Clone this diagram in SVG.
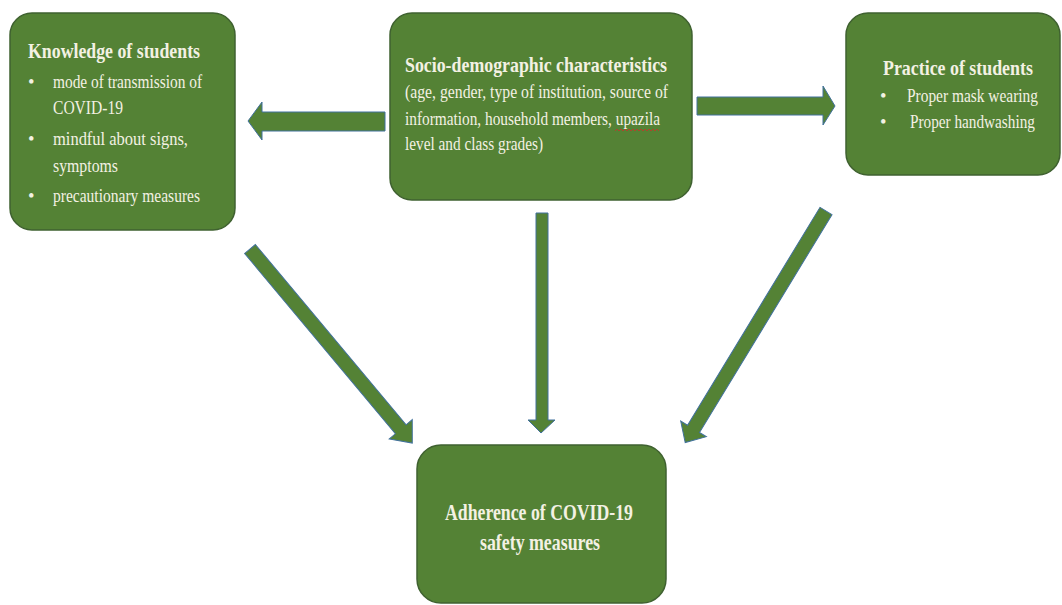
<svg xmlns="http://www.w3.org/2000/svg" width="1062" height="605" viewBox="0 0 1062 605">
<defs>
<style>
.box{fill:#548235;stroke:#3f6130;stroke-width:1.5}
.arr{fill:#548235;stroke:#41719c;stroke-width:1}
.t{font-family:"Liberation Serif","Times New Roman",serif;fill:#f3f1e3}
.h{font-weight:bold;font-size:22px}
.b{font-size:18.5px}
.big{font-weight:bold;font-size:24px}
</style>
</defs>
<rect width="1062" height="605" fill="#ffffff"/>
<g id="connectors">
<polygon class="arr" points="385,112 262,112 262,102 248,121 262,140 262,131 385,131"/>
<polygon class="arr" points="697,97 823,97 823,86 835,106 823,125 823,115 697,115"/>
<polygon class="arr" points="536,213 548,213 548,420 555,420 541,433 528,420 536,420"/>
<polygon class="arr" transform="translate(250,249) rotate(50.1)" points="0,-7 235,-7 235,-15 253,0 235,15 235,7 0,7"/>
<polygon class="arr" transform="translate(826,211) rotate(121.3)" points="0,-7 255,-7 255,-15 271,0 255,15 255,7 0,7"/>
</g>
<g id="knowledge">
<rect class="box" x="10" y="13" width="225" height="217" rx="22"/>
<text class="t h" x="28" y="58" textLength="172" lengthAdjust="spacingAndGlyphs">Knowledge of students</text>
<text class="t b" x="28" y="88">•</text>
<text class="t b" x="53" y="88" textLength="149" lengthAdjust="spacingAndGlyphs">mode of transmission of</text>
<text class="t b" x="53" y="114" textLength="70" lengthAdjust="spacingAndGlyphs">COVID-19</text>
<text class="t b" x="28" y="145">•</text>
<text class="t b" x="53" y="145" textLength="135" lengthAdjust="spacingAndGlyphs">mindful about signs,</text>
<text class="t b" x="53" y="172" textLength="65" lengthAdjust="spacingAndGlyphs">symptoms</text>
<text class="t b" x="28" y="202">•</text>
<text class="t b" x="53" y="202" textLength="147" lengthAdjust="spacingAndGlyphs">precautionary measures</text>
</g>
<g id="socio">
<rect class="box" x="390" y="13" width="302" height="187" rx="22"/>
<text class="t h" x="405" y="72" textLength="262" lengthAdjust="spacingAndGlyphs">Socio-demographic characteristics</text>
<text class="t b" x="405" y="98" textLength="263" lengthAdjust="spacingAndGlyphs">(age, gender, type of institution, source of</text>
<text class="t b" x="405" y="125" textLength="255" lengthAdjust="spacingAndGlyphs">information, household members, upazila</text>
<text class="t b" x="405" y="150" textLength="138" lengthAdjust="spacingAndGlyphs">level and class grades)</text>
<path d="M615,131 l2,-2 l2,2 l2,-2 l2,2 l2,-2 l2,2 l2,-2 l2,2 l2,-2 l2,2 l2,-2 l2,2 l2,-2 l2,2 l2,-2 l2,2 l2,-2 l2,2 l2,-2 l2,2 l2,-2 l2,2" fill="none" stroke="#c0392b" stroke-width="0.8"/>
</g>
<g id="practice">
<rect class="box" x="846" y="13" width="214" height="162" rx="22"/>
<text class="t h" transform="translate(883,75) scale(0.813,1)">Practice of students</text>
<text class="t b" x="880" y="102">•</text>
<text class="t b" transform="translate(907,102) scale(0.834,1)">Proper mask wearing</text>
<text class="t b" x="880" y="128">•</text>
<text class="t b" transform="translate(910,128) scale(0.825,1)">Proper handwashing</text>
</g>
<g id="adherence">
<rect class="box" x="417" y="445" width="249" height="158" rx="24"/>
<text class="t big" x="445" y="520" textLength="188" lengthAdjust="spacingAndGlyphs">Adherence of COVID-19</text>
<text class="t big" x="480" y="550" textLength="120" lengthAdjust="spacingAndGlyphs">safety measures</text>
</g>
</svg>
